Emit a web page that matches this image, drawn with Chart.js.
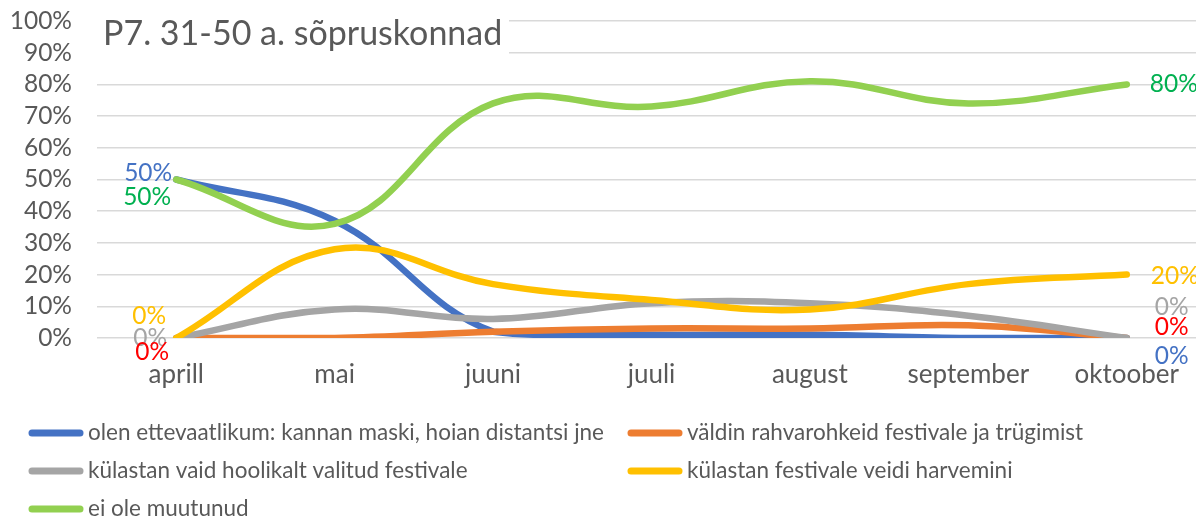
<!DOCTYPE html>
<html>
<head>
<meta charset="utf-8">
<script src="https://cdn.jsdelivr.net/npm/chart.js@4/dist/chart.umd.min.js"></script>
<style>
html,body{margin:0;padding:0;background:#fff;overflow:hidden;}
#wrap{width:1196px;height:518px;position:relative;overflow:hidden;}
</style>
</head>
<body>
<div id="wrap"><canvas id="c" width="1206" height="518"></canvas></div>
<script>
const categories = ['aprill','mai','juuni','juuli','august','september','oktoober'];
const seriesNames = [
  'olen ettevaatlikum: kannan maski, hoian distantsi jne',
  'väldin rahvarohkeid festivale ja trügimist',
  'külastan vaid hoolikalt valitud festivale',
  'külastan festivale veidi harvemini',
  'ei ole muutunud'
];
const carefulValues  = [50, 37, 2, 1, 1, 0, 0];
const avoidValues    = [0, 0, 2, 3, 3, 4, 0];
const selectedValues = [0, 9, 6, 11, 11, 7, 0];
const lessValues     = [0, 28, 17, 12, 9, 17, 20];
const unchangedValues= [50, 36, 74, 73, 81, 74, 80];
const yTicks = [0,10,20,30,40,50,60,70,80,90,100];
const titleText = 'P7. 31-50 a. sõpruskonnad';

const seriesValues = [carefulValues, avoidValues, selectedValues, lessValues, unchangedValues];
const lineColors = ['#4472C4','#ED7D31','#A5A5A5','#FFC000','#92D050'];
const labelColors = ['#4472C4','#FF0000','#A5A5A5','#FFC000','#00B050'];

// label offsets (layout only)
const firstLabelOffsets = [
  {s:0, dx:-4, dy:-6}, {s:4, dx:-5, dy:18}, {s:3, dx:-10, dy:-22}, {s:2, dx:-9, dy:0}, {s:1, dx:-7, dy:14}
];
const lastLabelOffsets = [
  {s:4, dx:23, dy:0}, {s:3, dx:24, dy:1}, {s:2, dx:28, dy:-31}, {s:1, dx:28, dy:-11}, {s:0, dx:28, dy:18}
];

const FONT = 'Lato, "Open Sans", sans-serif';
const TXT = '#595959';

const labelPlugin = {
  id:'endLabels',
  afterDatasetsDraw(chart){
    const ctx = chart.ctx, xs = chart.scales.x, ys = chart.scales.y;
    ctx.save();
    ctx.font = '24.5px ' + FONT;
    ctx.textBaseline = 'middle';
    const last = categories.length - 1;
    firstLabelOffsets.forEach(o=>{
      const v = seriesValues[o.s][0];
      ctx.fillStyle = labelColors[o.s];
      ctx.textAlign = 'right';
      ctx.fillText(v + '%', xs.getPixelForValue(0) + o.dx, ys.getPixelForValue(v) + o.dy);
    });
    lastLabelOffsets.forEach(o=>{
      const v = seriesValues[o.s][last];
      ctx.fillStyle = labelColors[o.s];
      ctx.textAlign = 'left';
      ctx.fillText(v + '%', xs.getPixelForValue(last) + o.dx, ys.getPixelForValue(v) + o.dy);
    });
    ctx.restore();
  }
};

const titlePlugin = {
  id:'boxTitle',
  afterDraw(chart){
    const ctx = chart.ctx;
    ctx.save();
    ctx.fillStyle = '#fff';
    ctx.fillRect(chart.chartArea.left, 0, 412, 64);
    ctx.font = '34px ' + FONT;
    ctx.fillStyle = TXT;
    ctx.textBaseline = 'middle';
    ctx.textAlign = 'left';
    ctx.fillText(titleText, 103, 34);
    ctx.restore();
  }
};

const legendPlugin = {
  id:'customLegend',
  afterDraw(chart){
    const ctx = chart.ctx;
    const cols = [28, 627];
    const rows = [433, 471, 509];
    ctx.save();
    ctx.font = '22.5px ' + FONT;
    ctx.textBaseline = 'middle';
    ctx.textAlign = 'left';
    seriesNames.forEach((name,i)=>{
      const x = cols[i%2], y = rows[Math.floor(i/2)];
      ctx.strokeStyle = lineColors[i];
      ctx.lineWidth = 7;
      ctx.lineCap = 'round';
      ctx.beginPath(); ctx.moveTo(x+4, y); ctx.lineTo(x+52, y); ctx.stroke();
      ctx.fillStyle = TXT;
      ctx.fillText(name, x+60, y);
    });
    ctx.restore();
  }
};

new Chart(document.getElementById('c'), {
  type:'line',
  data:{
    labels: categories,
    datasets: seriesValues.map((vals,i)=>({
      label: seriesNames[i],
      data: vals,
      borderColor: lineColors[i],
      backgroundColor: lineColors[i],
      borderWidth: 6.5,
      borderCapStyle: 'round',
      borderJoinStyle: 'round',
      pointRadius: 0,
      tension: 0.4,
      fill: false,
      order: seriesValues.length - i
    }))
  },
  options:{
    responsive:false,
    animation:false,
    layout:{padding:{top:21, left:0, right:0, bottom:120}},
    plugins:{legend:{display:false}, title:{display:false}, tooltip:{enabled:false}},
    scales:{
      x:{
        offset:true,
        grid:{display:false, drawTicks:false},
        border:{display:false},
        ticks:{color:TXT, font:{family:FONT, size:26}, padding:21, maxRotation:0, autoSkip:false},
        afterFit(s){ s.height = 60; s.paddingLeft = 0; s.paddingRight = 0; }
      },
      y:{
        min:0, max:100,
        afterBuildTicks(s){ s.ticks = yTicks.map(v=>({value:v})); },
        grid:{color:'#D9D9D9', lineWidth:1.5, drawTicks:false},
        border:{display:false},
        ticks:{color:TXT, font:{family:FONT, size:24.5}, padding:25, autoSkip:false, callback:v=>v+'%'},
        afterFit(s){ s.width = 97; s.paddingTop = 0; s.paddingBottom = 0; }
      }
    }
  },
  plugins:[labelPlugin, titlePlugin, legendPlugin]
});
</script>
</body>
</html>
